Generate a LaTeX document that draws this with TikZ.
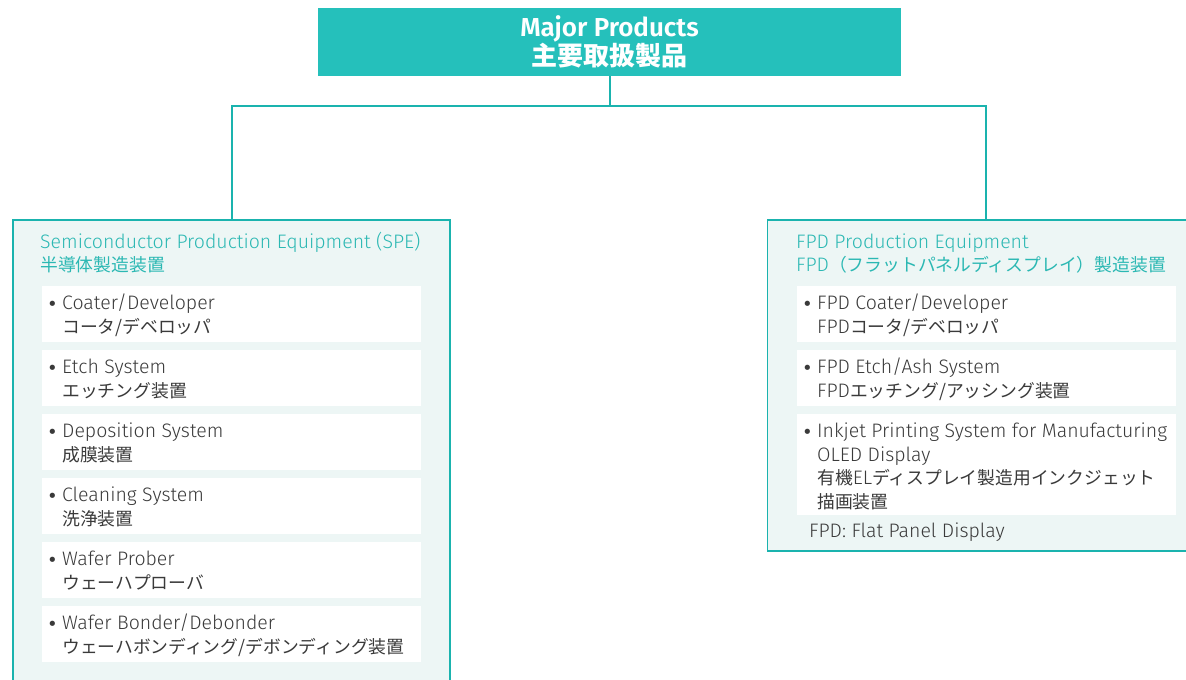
\documentclass[tikz,border=0pt]{standalone}
\usepackage{fontspec}
\setmainfont{Fira Sans Light}
\newfontfamily\titlefont{Fira Sans SemiBold}
\newfontfamily\jpfont{Noto Sans CJK JP}
\newfontfamily\bulfont{DejaVu Sans}
\newcommand\jpt[1]{{\jpfont\fontsize{17.8}{23.5}\selectfont #1}}
\newcommand\bul{\llap{\raisebox{-1pt}{\bulfont\fontsize{18}{18}\selectfont •}\hspace{4.5pt}}}
\definecolor{lineteal}{HTML}{1AB3AE}
\definecolor{titleteal}{HTML}{25C0BB}
\definecolor{panel}{HTML}{EDF6F5}
\definecolor{headteal}{HTML}{2BB8B3}
\definecolor{bodytext}{HTML}{3A3A3A}
\newcommand\prodbox[5]{%
  \node[itembox, minimum height=#4pt] (#1) at (#2,#3) {};
  \node[itemtext] (#1t) at ({#2+20},{#3+7}) {\bul\strut #5};
}
\begin{document}
\begin{tikzpicture}[x=1pt,y=-1pt,
  conn/.style={draw=lineteal, line width=2pt},
  titlebox/.style={fill=titleteal, minimum width=583pt, minimum height=68pt, inner sep=0pt,
    text=white, align=center, font=\titlefont\fontsize{26}{28}\selectfont},
  container/.style={draw=lineteal, line width=1.6pt, fill=panel, minimum width=437pt, inner sep=0pt},
  itembox/.style={fill=white, minimum width=379pt, inner sep=0pt, anchor=north west},
  itemtext/.style={anchor=north west, inner sep=0pt, align=left, text=bodytext,
    font=\fontsize{19.5}{23.5}\selectfont},
  headtext/.style={itemtext, text=headteal}]
\useasboundingbox (0,0) rectangle (1186,680);
\clip (0,0) rectangle (1186,680);

% title
\node[titlebox] (title) at (609.5,42) {Major Products\\{\jpfont\bfseries\fontsize{26}{28}\selectfont 主要取扱製品}};

% containers
\node[container, minimum height=480pt] (spe) at (231.5,460) {};
\node[container, minimum height=331pt] (fpd) at (986,385.5) {};

% connectors
\coordinate (hub) at (0,106);
\draw[conn] (title.south) -- (title.south |- hub);
\draw[conn] (spe.north) |- (title.south |- hub) -| (fpd.north);

% left heading
\node[headtext] (speh) at (40,231.5) {\strut Semiconductor Production Equipment (SPE)\\\jpt{半導体製造装置}};

\prodbox{s1}{42}{286}{56}{Coater/Developer\\\jpt{コータ/デベロッパ}}
\prodbox{s2}{42}{350}{56}{Etch System\\\jpt{エッチング装置}}
\prodbox{s3}{42}{414}{56}{Deposition System\\\jpt{成膜装置}}
\prodbox{s4}{42}{478}{56}{Cleaning System\\\jpt{洗浄装置}}
\prodbox{s5}{42}{542}{56}{Wafer Prober\\\jpt{ウェーハプローバ}}
\prodbox{s6}{42}{606}{56}{Wafer Bonder/Debonder\\\jpt{ウェーハボンディング/デボンディング装置}}

% right heading
\node[headtext] (fpdh) at (796,231.5) {\strut FPD Production Equipment\\FPD\jpt{（フラットパネルディスプレイ）製造装置}};

\prodbox{f1}{797}{286}{56}{FPD Coater/Developer\\FPD\jpt{コータ/デベロッパ}}
\prodbox{f2}{797}{350}{56}{FPD Etch/Ash System\\FPD\jpt{エッチング/アッシング装置}}
\prodbox{f3}{797}{414}{101}{Inkjet Printing System for Manufacturing\\OLED Display\\\jpt{有機}EL\jpt{ディスプレイ製造用インクジェット}\\\jpt{描画装置}}

\node[anchor=base west, inner sep=0pt, text=bodytext, font=\fontsize{19.5}{23.5}\selectfont] (fpdnote) at (809,537.5) {FPD: Flat Panel Display};
\end{tikzpicture}
\end{document}
